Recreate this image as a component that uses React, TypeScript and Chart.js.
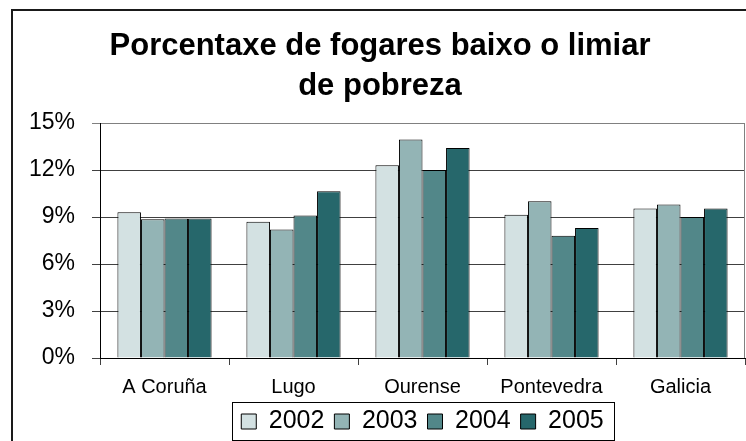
import React, { useEffect, useRef } from "react";
import { Chart, registerables } from "chart.js";

Chart.register(...registerables);

const categories = ["A Coruña", "Lugo", "Ourense", "Pontevedra", "Galicia"];
const years = ["2002", "2003", "2004", "2005"];
const values2002 = [9.3, 8.7, 12.3, 9.15, 9.55];
const values2003 = [8.85, 8.2, 13.95, 10.0, 9.8];
const values2004 = [8.9, 9.1, 12.0, 7.8, 9.0];
const values2005 = [8.9, 10.65, 13.4, 8.3, 9.55];
const seriesColors = ["#D3E1E2", "#93B4B5", "#528789", "#26676B"];
const titleLines = ["Porcentaxe de fogares baixo o limiar", "de pobreza"];
const yMin = 0;
const yMax = 15;
const yStep = 3;

const FONT = "'Liberation Sans', Arial, Helvetica, sans-serif";

const framePlugin = {
  id: "frame",
  afterDraw(chart: any) {
    const ctx = chart.ctx;
    const area = chart.chartArea;
    ctx.save();
    // outer chart frame
    ctx.strokeStyle = "#1a1a1a";
    ctx.lineWidth = 2;
    ctx.beginPath();
    ctx.moveTo(12, 460);
    ctx.lineTo(12, 10);
    ctx.lineTo(800, 10);
    ctx.stroke();
    // plot area right border
    ctx.strokeStyle = "#808080";
    ctx.lineWidth = 1;
    ctx.beginPath();
    ctx.moveTo(area.right - 0.5, area.top);
    ctx.lineTo(area.right - 0.5, area.bottom);
    ctx.stroke();
    // legend frame
    const lg = chart.legend;
    if (lg && lg.legendHitBoxes && lg.legendHitBoxes.length) {
      const hb = lg.legendHitBoxes;
      const first = hb[0];
      const last = hb[hb.length - 1];
      const l = Math.round(first.left - 9);
      const r = Math.round(last.left + last.width + 10);
      const t = Math.round(first.top - 7);
      const b = Math.round(first.top + first.height + 6);
      ctx.strokeStyle = "#000";
      ctx.lineWidth = 1;
      ctx.strokeRect(l + 0.5, t + 0.5, r - l, b - t);
    }
    ctx.restore();
  },
};

export default function App() {
  const canvasRef = useRef<HTMLCanvasElement | null>(null);

  useEffect(() => {
    if (!canvasRef.current) return;
    const allValues = [values2002, values2003, values2004, values2005];
    const chart = new Chart(canvasRef.current, {
      type: "bar",
      data: {
        labels: categories,
        datasets: years.map((y, i) => ({
          label: y,
          data: allValues[i],
          backgroundColor: seriesColors[i],
          borderColor: "#000",
          borderWidth: 1,
          categoryPercentage: 0.73,
          barPercentage: 1,
        })),
      },
      options: {
        animation: false,
        responsive: false,
        maintainAspectRatio: false,
        layout: { padding: { left: 15, right: 1, top: 10, bottom: 0 } },
        plugins: {
          title: {
            display: true,
            text: titleLines,
            color: "#000",
            font: { family: FONT, size: 31, weight: "bold", lineHeight: 40 / 31 },
            padding: { top: 16, bottom: 17 },
          },
          legend: {
            position: "bottom",
            fullSize: false,
            labels: {
              boxWidth: 15,
              boxHeight: 15,
              padding: 10,
              color: "#000",
              font: { family: FONT, size: 25 },
            },
          },
          tooltip: { enabled: false },
        },
        scales: {
          x: {
            grid: { drawOnChartArea: false, tickLength: 7, color: "#404040", offset: true },
            border: { color: "#000" },
            ticks: { color: "#000", font: { family: FONT, size: 20 }, padding: 10 },
            afterFit: (s: any) => {
              s.height = 41;
            },
          },
          y: {
            min: yMin,
            max: yMax,
            ticks: {
              stepSize: yStep,
              color: "#000",
              font: { family: FONT, size: 23 },
              padding: 17,
              callback: (v: any) => v + "%",
            },
            grid: {
              tickLength: 8,
              color: (c: any) => (c.tick && c.tick.value === yMax ? "#808080" : "#404040"),
            },
            border: { color: "#000" },
            afterFit: (s: any) => {
              s.width = 85;
            },
          },
        },
      },
      plugins: [framePlugin],
    } as any);
    return () => chart.destroy();
  }, []);

  return (
    <div
      style={{
        position: "fixed",
        left: 0,
        top: 0,
        width: 746,
        height: 441,
        overflow: "hidden",
        background: "#fff",
      }}
    >
      <canvas ref={canvasRef} width={746} height={444} style={{ display: "block" }} />
    </div>
  );
}
